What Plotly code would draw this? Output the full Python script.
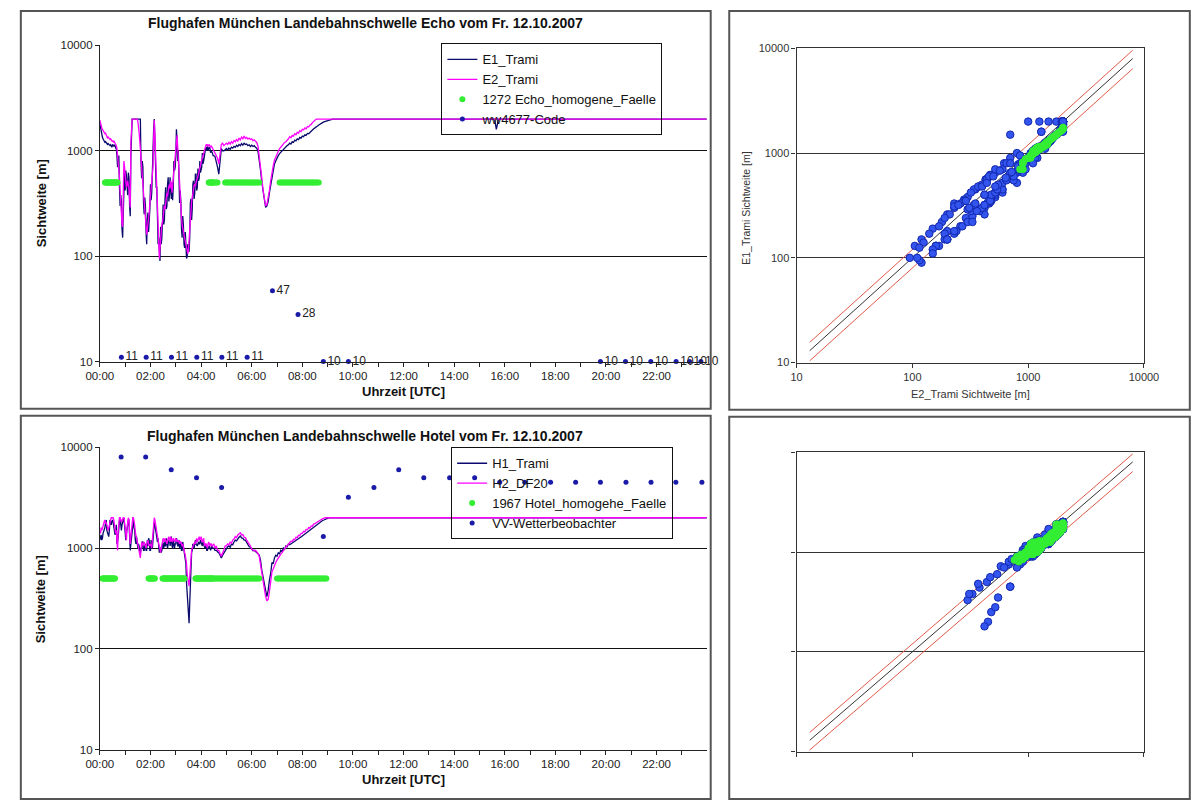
import datetime as dt
import plotly.graph_objects as go

FIG_W, FIG_H = 1197, 801
FONT = "Liberation Sans, Arial, Helvetica, sans-serif"

DAY = dt.datetime(2007, 10, 12)
# sampling of the morning series: every 1.5 min until 04:30, then every 3 min
FINE_STEP, FINE_N = 1.5, 180
COARSE_START, COARSE_STEP = 270, 3

# ---- Runway threshold Echo, visibility [m] ----
ECHO_E1 = [
    # 00:00 - 04:28.5 (1.5 min)
    1800, 1650, 1500, 1400, 1350, 1300, 1250, 1230, 1200, 1220, 1180, 1150, 1150, 1170, 1160, 1130, 1120, 1140, 1100, 1080,
    1150, 1120, 1100, 1140, 1120, 1060, 1050, 900, 700, 780, 900, 450, 300, 380, 330, 180, 150, 260, 520, 640,
    420, 650, 580, 400, 380, 620, 560, 300, 240, 900, 2000, 2000, 2000, 2000, 2000, 2000, 2000, 2000, 2000, 2000,
    2000, 2000, 2000, 2000, 2000, 800, 550, 800, 700, 320, 250, 360, 300, 170, 130, 220, 260, 170, 200, 280,
    480, 340, 400, 700, 1500, 1600, 2000, 1100, 650, 450, 450, 180, 130, 150, 100, 90, 190, 130, 150, 260,
    310, 200, 220, 350, 450, 280, 300, 480, 560, 330, 380, 560, 420, 350, 500, 340, 450, 800, 650, 700,
    900, 1600, 1250, 800, 1000, 450, 320, 420, 330, 180, 150, 240, 200, 130, 120, 170, 140, 95, 100, 130,
    125, 110, 150, 320, 350, 220, 280, 480, 520, 350, 400, 600, 600, 420, 450, 680, 520, 550, 800, 620,
    650, 700, 950, 750, 800, 900, 1000, 1050, 1080, 1000, 1100, 1020, 1050, 1080, 1050, 960, 1000, 980, 950, 900,
    # 04:30 - 09:15 (3 min)
    900, 880, 800, 700, 600, 850, 1050, 1000, 1000, 1020,
    1050, 1020, 1060, 1030, 1080, 1060, 1100, 1080, 1130, 1100,
    1150, 1120, 1170, 1130, 1180, 1150, 1160, 1120, 1140, 1100,
    1130, 1100, 1120, 1080, 1060, 980, 820, 650, 500, 400,
    320, 290, 300, 330, 400, 480, 580, 660, 750, 800,
    860, 900, 940, 970, 1000, 1020, 1060, 1080, 1120, 1140,
    1180, 1160, 1220, 1200, 1260, 1240, 1300, 1280, 1340, 1320,
    1380, 1360, 1420, 1400, 1460, 1450, 1500, 1520, 1580, 1620,
    1650, 1700, 1720, 1760, 1780, 1820, 1850, 1880, 1900, 1930,
    1950, 1970, 1990, 2000, 2000, 2000,
]
ECHO_E2 = [
    1950, 1880, 1750, 1640, 1600, 1560, 1500, 1480, 1450, 1470, 1400, 1360, 1330, 1350, 1310, 1290, 1280, 1300, 1250, 1240,
    1230, 1250, 1200, 1220, 1180, 1150, 1120, 1050, 900, 820, 700, 560, 420, 300, 230, 200, 190, 420, 800, 700,
    600, 520, 450, 480, 520, 470, 430, 350, 290, 1200, 2000, 2000, 2000, 2000, 2000, 2000, 2000, 2000, 2000, 2000,
    1900, 1750, 1500, 1250, 1000, 850, 750, 620, 520, 420, 330, 280, 230, 190, 160, 180, 200, 230, 260, 320,
    380, 450, 520, 600, 700, 1300, 1950, 1400, 900, 600, 350, 240, 160, 120, 95, 120, 150, 170, 200, 210,
    230, 270, 300, 280, 340, 380, 400, 370, 430, 460, 480, 440, 520, 480, 400, 470, 560, 650, 800, 950,
    1150, 1300, 1400, 1100, 800, 600, 420, 320, 260, 230, 200, 190, 170, 160, 150, 140, 125, 115, 110, 105,
    115, 150, 200, 250, 290, 330, 360, 400, 440, 470, 480, 460, 500, 520, 540, 570, 600, 650, 700, 740,
    780, 820, 850, 900, 950, 1000, 1050, 1100, 1150, 1120, 1150, 1100, 1130, 1150, 1100, 1080, 1120, 1080, 1050, 1020,
    1000, 950, 900, 850, 750, 950, 1150, 1180, 1120, 1150,
    1180, 1150, 1200, 1160, 1220, 1180, 1250, 1220, 1280, 1240,
    1320, 1270, 1350, 1300, 1380, 1310, 1340, 1290, 1320, 1280,
    1300, 1250, 1270, 1230, 1200, 1100, 900, 700, 550, 420,
    340, 300, 310, 350, 420, 520, 640, 720, 820, 880,
    950, 1000, 1050, 1080, 1130, 1150, 1200, 1220, 1280, 1300,
    1360, 1330, 1400, 1380, 1450, 1420, 1500, 1470, 1550, 1520,
    1600, 1580, 1650, 1620, 1700, 1680, 1750, 1780, 1850, 1900,
    1950, 2000, 2000, 2000, 2000, 2000, 2000, 2000, 2000, 2000,
    2000, 2000, 2000, 2000, 2000, 2000,
]
# rest of the day (minutes after midnight): capped at 2000 m, one short drop of E1
ECHO_LATE_MIN = [936, 940, 945, 1439]
ECHO_LATE_E1 = [2000, 1600, 2000, 2000]
ECHO_LATE_E2 = [2000, 2000, 2000, 2000]
# periods with homogeneous visibility (start, end) in minutes
ECHO_HOMOG = [(12, 42), (258, 279), (297, 378), (426, 519)]
# present-weather code (ww 4677) reports
WW_HOURS = [0.85, 1.83, 2.83, 3.83, 4.82, 5.82, 6.82, 7.83, 8.83, 9.82,
            19.78, 20.77, 21.77, 22.77, 23.3, 23.75]
WW_CODES = [11, 11, 11, 11, 11, 11, 47, 28, 10, 10,
            10, 10, 10, 10, 10, 10]

# ---- Runway threshold Hotel, visibility [m] ----
HOTEL_H1 = [
    1200, 1250, 1350, 1200, 1250, 1400, 1450, 1550, 1600, 1800, 1900, 1500, 1400, 1300, 1300, 1500, 1900, 1800, 1700, 1850,
    1900, 1800, 1600, 1400, 1350, 1500, 1700, 1100, 1150, 1300, 1700, 1900, 2000, 1700, 1500, 1700, 1800, 2000, 2000, 1700,
    1300, 1200, 1400, 1500, 1700, 1900, 1900, 1300, 950, 1100, 1250, 1500, 1800, 1900, 1600, 1500, 1200, 1100, 1300, 1000,
    1000, 1100, 1050, 900, 900, 1000, 1000, 1150, 1150, 950, 950, 1050, 1100, 950, 950, 1200, 1050, 1250, 1200, 950,
    950, 1200, 1100, 1000, 1200, 1500, 1800, 1700, 1500, 1400, 1300, 1150, 1250, 900, 900, 1000, 1000, 900, 950, 1100,
    1100, 1000, 1200, 1050, 1050, 1250, 1150, 1000, 1100, 1200, 1250, 1050, 1150, 1300, 1050, 1000, 1200, 1050, 1000, 1100,
    1100, 1250, 1200, 1050, 1050, 1200, 1000, 1050, 1150, 950, 950, 1150, 1050, 900, 850, 750, 700, 450, 350, 250,
    200, 180, 280, 450, 800, 900, 950, 1100, 1050, 1000, 1100, 1200, 1100, 1050, 1050, 1100, 1150, 1100, 1100, 1200,
    1150, 1100, 1050, 1150, 1100, 1000, 1000, 1050, 1050, 950, 950, 1000, 1050, 1050, 1000, 950, 1000, 1050, 1000, 1000,
    1000, 950, 950, 920, 900, 850, 800, 850, 900, 950,
    1000, 1030, 1050, 1020, 1100, 1080, 1150, 1200, 1180, 1250,
    1280, 1320, 1260, 1250, 1200, 1200, 1150, 1100, 1030, 1020,
    960, 940, 950, 930, 900, 880, 850, 750, 600, 500,
    440, 380, 330, 380, 480, 560, 720, 700, 800, 850,
    830, 900, 880, 950, 920, 1000, 970, 1050, 1030, 1100,
    1080, 1100, 1120, 1140, 1160, 1180, 1220, 1240, 1260, 1290,
    1320, 1350, 1380, 1400, 1450, 1480, 1520, 1550, 1580, 1620,
    1650, 1700, 1740, 1780, 1820, 1850, 1880, 1900, 1930, 1950,
    1970, 1990, 2000, 2000, 2000, 2000,
]
HOTEL_H2 = [
    1500, 1400, 1600, 1500, 1550, 1700, 1750, 1850, 1900, 1750, 1800, 1700, 1650, 1500, 1580, 1650, 1750, 1900, 2000, 2000,
    2000, 2000, 1900, 1700, 1600, 1400, 1500, 1200, 950, 1500, 2000, 2000, 2000, 1900, 1800, 1900, 2000, 2000, 2000, 1850,
    1600, 1400, 1200, 1600, 2000, 2000, 1900, 1500, 1100, 1300, 1500, 1800, 2000, 2000, 1900, 1700, 1450, 1300, 1200, 1150,
    1100, 1000, 900, 850, 800, 950, 1150, 1100, 1050, 1100, 1150, 1100, 1050, 1000, 1100, 1150, 1200, 1100, 1050, 1080,
    1100, 1050, 1000, 1200, 1400, 1800, 2000, 1900, 1700, 1600, 1500, 1300, 1150, 1100, 1050, 950, 900, 1000, 1100, 1200,
    1250, 1200, 1150, 1250, 1200, 1150, 1100, 1200, 1250, 1300, 1200, 1150, 1300, 1250, 1150, 1200, 1250, 1200, 1150, 1200,
    1250, 1200, 1150, 1180, 1200, 1150, 1100, 1150, 1150, 1100, 1050, 1100, 1000, 950, 900, 850, 800, 700, 550, 480,
    450, 420, 520, 700, 900, 950, 1000, 1050, 1100, 1150, 1150, 1100, 1200, 1250, 1150, 1200, 1250, 1300, 1200, 1250,
    1300, 1200, 1150, 1200, 1250, 1100, 1050, 1100, 1100, 1050, 1000, 1100, 1150, 1100, 1050, 1100, 1100, 1050, 1050, 1080,
    1100, 1000, 1050, 950, 950, 880, 830, 900, 950, 1050,
    1050, 1100, 1080, 1150, 1120, 1200, 1230, 1300, 1270, 1350,
    1380, 1420, 1350, 1360, 1280, 1270, 1200, 1150, 1080, 1050,
    980, 950, 940, 950, 920, 880, 820, 680, 540, 440,
    380, 330, 300, 310, 370, 470, 580, 620, 680, 720,
    760, 800, 840, 870, 900, 950, 980, 1020, 1060, 1100,
    1130, 1170, 1160, 1220, 1210, 1280, 1270, 1340, 1330, 1400,
    1400, 1470, 1450, 1530, 1520, 1600, 1580, 1660, 1650, 1730,
    1750, 1790, 1830, 1870, 1900, 1920, 1950, 1980, 2000, 2000,
    2000, 2000, 2000, 2000, 2000, 2000,
]
HOTEL_LATE_MIN = [1439]
HOTEL_LATE_H1 = [2000]
HOTEL_LATE_H2 = [2000]
HOTEL_HOMOG = [(6, 36), (115, 131), (148, 201), (226, 380), (420, 537)]
# visibility reported by the weather observer
VV_HOURS = [0.84, 1.81, 2.82, 3.82, 4.81, 8.83, 9.82, 10.83, 11.81, 12.8,
            13.82, 14.81, 15.8, 16.79, 17.81, 18.8, 19.78, 20.79, 21.78, 22.76, 23.79]
VV_METERS = [8000, 8000, 6000, 5000, 4000, 1300, 3200, 4000, 6000, 5000,
             5000, 5000, 4500, 4500, 4500, 4500, 4500, 4500, 4500, 4500, 4500]

HOMOG_LEVEL = 500  # level at which homogeneous periods are flagged
# 1:1 line and +/-20 % band of the comparison plots
DIAG_X = [13, 8000]
DIAG_Y = [13, 8000]
BAND_HI_Y = [15.6, 9600]
BAND_LO_Y = [10.4, 6400]

C_NAVY = "#0a0a6e"
C_MAGENTA = "#ff00ff"
C_GREEN = "#33ee33"
C_DOT = "#1a1aa8"
C_SCAT = "#3355ee"
C_SCAT_EDGE = "#1228b0"


def stamp(minutes):
    return DAY + dt.timedelta(minutes=minutes)


def sample_minutes(n, late):
    fine = [i * FINE_STEP for i in range(min(n, FINE_N))]
    coarse = [COARSE_START + j * COARSE_STEP for j in range(max(0, n - FINE_N))]
    return fine + coarse + list(late)


def homog_pick(minutes, values_x, values_y, ranges):
    xs, ys, ts = [], [], []
    for m, a, b in zip(minutes, values_x, values_y):
        if any(lo <= m <= hi for lo, hi in ranges):
            xs.append(a)
            ys.append(b)
            ts.append(stamp(m))
    return xs, ys, ts


def hrs(h):
    return DAY + dt.timedelta(hours=h)


def px(x):
    return x / FIG_W


def py(y):
    return 1 - y / FIG_H


fig = go.Figure()

# ---------------- Echo time series ----------------
e1 = ECHO_E1 + ECHO_LATE_E1
e2 = ECHO_E2 + ECHO_LATE_E2
e1_min = sample_minutes(len(ECHO_E1), ECHO_LATE_MIN)
e2_min = sample_minutes(len(ECHO_E2), ECHO_LATE_MIN)
e_hx, e_hy, e_ht = homog_pick(e2_min, e2, e1, ECHO_HOMOG)

fig.add_trace(go.Scatter(x=[stamp(m) for m in e1_min], y=e1, mode="lines", name="E1_Trami",
                         line=dict(color=C_NAVY, width=1.3), xaxis="x", yaxis="y", legend="legend"))
fig.add_trace(go.Scatter(x=[stamp(m) for m in e2_min], y=e2, mode="lines", name="E2_Trami",
                         line=dict(color=C_MAGENTA, width=1.3), xaxis="x", yaxis="y", legend="legend"))
fig.add_trace(go.Scatter(x=e_ht, y=[HOMOG_LEVEL] * len(e_ht), mode="markers",
                         name="1272 Echo_homogene_Faelle",
                         marker=dict(color=C_GREEN, size=6), xaxis="x", yaxis="y", legend="legend"))
fig.add_trace(go.Scatter(x=[hrs(h) for h in WW_HOURS], y=WW_CODES, mode="markers+text",
                         name="ww4677-Code", text=[str(c) for c in WW_CODES],
                         textposition="middle right",
                         textfont=dict(family=FONT, size=12, color="#222"),
                         marker=dict(color=C_DOT, size=5), cliponaxis=False,
                         xaxis="x", yaxis="y", legend="legend"))

# ---------------- Hotel time series ----------------
h1 = HOTEL_H1 + HOTEL_LATE_H1
h2 = HOTEL_H2 + HOTEL_LATE_H2
h1_min = sample_minutes(len(HOTEL_H1), HOTEL_LATE_MIN)
h2_min = sample_minutes(len(HOTEL_H2), HOTEL_LATE_MIN)
h_hx, h_hy, h_ht = homog_pick(h2_min, h2, h1, HOTEL_HOMOG)

fig.add_trace(go.Scatter(x=[stamp(m) for m in h1_min], y=h1, mode="lines", name="H1_Trami",
                         line=dict(color=C_NAVY, width=1.3), xaxis="x2", yaxis="y2", legend="legend2"))
fig.add_trace(go.Scatter(x=[stamp(m) for m in h2_min], y=h2, mode="lines", name="H2_DF20",
                         line=dict(color=C_MAGENTA, width=1.3), xaxis="x2", yaxis="y2", legend="legend2"))
fig.add_trace(go.Scatter(x=h_ht, y=[HOMOG_LEVEL] * len(h_ht), mode="markers",
                         name="1967 Hotel_homogehe_Faelle",
                         marker=dict(color=C_GREEN, size=6), xaxis="x2", yaxis="y2", legend="legend2"))
fig.add_trace(go.Scatter(x=[hrs(h) for h in VV_HOURS], y=VV_METERS, mode="markers",
                         name="VV-Wetterbeobachter",
                         marker=dict(color=C_DOT, size=5), cliponaxis=False,
                         xaxis="x2", yaxis="y2", legend="legend2"))

# ---------------- comparison plots ----------------
for xa, ya, sx, sy, hx, hy in (("x3", "y3", e2, e1, e_hx, e_hy),
                               ("x4", "y4", h2, h1, h_hx, h_hy)):
    fig.add_trace(go.Scatter(x=DIAG_X, y=BAND_HI_Y, mode="lines", showlegend=False,
                             line=dict(color="#e05a4a", width=1), xaxis=xa, yaxis=ya))
    fig.add_trace(go.Scatter(x=DIAG_X, y=BAND_LO_Y, mode="lines", showlegend=False,
                             line=dict(color="#e05a4a", width=1), xaxis=xa, yaxis=ya))
    fig.add_trace(go.Scatter(x=DIAG_X, y=DIAG_Y, mode="lines", showlegend=False,
                             line=dict(color="#333", width=1), xaxis=xa, yaxis=ya))
    fig.add_trace(go.Scatter(x=sx, y=sy, mode="markers", showlegend=False,
                             marker=dict(color=C_SCAT, size=7.5,
                                         line=dict(color=C_SCAT_EDGE, width=1)),
                             xaxis=xa, yaxis=ya))
    fig.add_trace(go.Scatter(x=hx, y=hy, mode="markers", showlegend=False,
                             marker=dict(color=C_GREEN, size=7.5), xaxis=xa, yaxis=ya))

# ---------------- axes ----------------
tick_font = dict(family=FONT, size=11.5, color="#222")
decades = [10, 100, 1000, 10000]
decade_txt = ["10", "100", "1000", "10000"]


def time_axis(anchor):
    return dict(type="date", domain=[px(88), px(710)], anchor=anchor,
                range=[DAY, DAY + dt.timedelta(hours=23, minutes=59)],
                tick0=DAY, dtick=2 * 3600 * 1000, tickformat="%H:%M",
                ticks="outside", ticklen=4, tickcolor="#222", tickfont=tick_font,
                minor=dict(dtick=3600 * 1000, ticks="outside", ticklen=4,
                           tickcolor="#222", showgrid=False),
                showline=True, linecolor="#222", linewidth=1,
                showgrid=False, zeroline=False, fixedrange=True)


def level_axis(top, bottom, anchor):
    return dict(type="log", domain=[py(bottom), py(top)], anchor=anchor, range=[1, 4],
                tickmode="array", tickvals=decades, ticktext=decade_txt,
                ticks="outside", ticklen=4, tickcolor="#222", tickfont=tick_font,
                showline=True, linecolor="#222", linewidth=1,
                showgrid=True, gridcolor="#111", gridwidth=1.2, zeroline=False)


def cmp_axis(domain, anchor, labels, grid):
    return dict(type="log", domain=domain, anchor=anchor, range=[1, 4],
                tickmode="array", tickvals=decades, ticktext=decade_txt,
                showticklabels=labels,
                ticks="outside", ticklen=4, tickcolor="#333",
                tickfont=dict(family=FONT, size=11, color="#333"),
                showline=True, mirror=True, linecolor="#333", linewidth=1.2,
                showgrid=grid, gridcolor="#333", gridwidth=1.3, zeroline=False)


fig.update_layout(
    xaxis=time_axis("y"),
    yaxis=level_axis(40, 361, "x"),
    xaxis2=time_axis("y2"),
    yaxis2=level_axis(448, 755, "x2"),
    xaxis3=cmp_axis([px(802), px(1158)], "y3", True, False),
    yaxis3=cmp_axis([py(362), py(43)], "x3", True, True),
    xaxis4=cmp_axis([px(802), px(1158)], "y4", False, False),
    yaxis4=cmp_axis([py(757), py(453)], "x4", False, True),
)

legend_style = dict(xanchor="left", yanchor="top", bordercolor="#111", borderwidth=1,
                    bgcolor="rgba(255,255,255,0)", tracegroupgap=0, itemwidth=30,
                    font=dict(family=FONT, size=13, color="#111"))
fig.update_layout(
    legend=dict(x=px(438), y=py(38), **legend_style),
    legend2=dict(x=px(448), y=py(448), **legend_style),
)

# ---------------- frames around the four panels ----------------
frame = dict(type="rect", xref="paper", yref="paper",
             line=dict(color="#555", width=2), fillcolor="rgba(0,0,0,0)", layer="above")
shapes = [
    dict(x0=px(7), x1=px(714), y0=py(409), y1=py(5), **frame),
    dict(x0=px(7), x1=px(714), y0=py(805), y1=py(416), **frame),
    dict(x0=px(733), x1=px(1205), y0=py(410), y1=py(5), **frame),
    dict(x0=px(733), x1=px(1205), y0=py(805), y1=py(417), **frame),
]


# ---------------- titles ----------------
def note(text, x, y, size, bold=False, angle=0, color="#111"):
    return dict(text=f"<b>{text}</b>" if bold else text, x=px(x), y=py(y),
                xref="paper", yref="paper", showarrow=False, textangle=angle,
                xanchor="center", yanchor="middle",
                font=dict(family=FONT, size=size, color=color))


annotations = [
    note("Flughafen München Landebahnschwelle Echo vom Fr. 12.10.2007", 360, 17, 14, True),
    note("Flughafen München Landebahnschwelle Hotel vom Fr. 12.10.2007", 360, 437, 14, True),
    note("Sichtweite [m]", 28, 200, 13, True, -90),
    note("Sichtweite [m]", 28, 602, 13, True, -90),
    note("Uhrzeit [UTC]", 399, 391, 13, True),
    note("Uhrzeit [UTC]", 399, 785, 13, True),
    note("E2_Trami Sichtweite [m]", 980, 394, 11, False, 0, "#333"),
    note("E1_Trami Sichtweite [m]", 750, 205, 10.5, False, -90, "#333"),
]

fig.update_layout(
    width=FIG_W, height=FIG_H, autosize=False,
    margin=dict(l=0, r=0, t=0, b=0),
    paper_bgcolor="white", plot_bgcolor="white",
    font=dict(family=FONT, color="#111"),
    shapes=shapes, annotations=annotations,
    hovermode=False,
)

fig.write_html("out.html")
